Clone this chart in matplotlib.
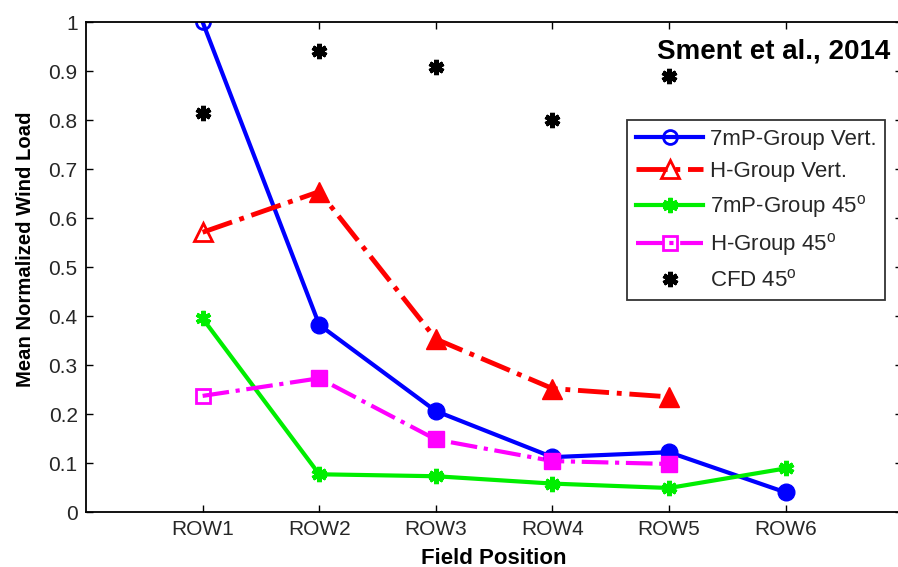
import matplotlib
matplotlib.use("Agg")
import matplotlib.pyplot as plt
import numpy as np

plt.rcParams["font.family"] = ["Liberation Sans", "DejaVu Sans"]
plt.rcParams["mathtext.fontset"] = "custom"
plt.rcParams["mathtext.rm"] = "Liberation Sans"

rows = ["ROW1", "ROW2", "ROW3", "ROW4", "ROW5", "ROW6"]
mp_vert = [1.0, 0.382, 0.206, 0.112, 0.122, 0.040]
h_vert = [0.571, 0.654, 0.353, 0.252, 0.235]
mp_45 = [0.395, 0.077, 0.073, 0.058, 0.049, 0.089]
h_45 = [0.237, 0.273, 0.148, 0.104, 0.098]
cfd_45 = [0.815, 0.941, 0.909, 0.800, 0.890]

x6 = np.arange(1, 7)
x5 = np.arange(1, 6)

fig = plt.figure(figsize=(8.98, 5.67), dpi=100)
# right spine falls just past the image edge, as in the original
ax = fig.add_axes([0.0958, 0.097, 0.909, 0.864])

asterisk = (6, 2, 0)

# lines with open first marker (as in legend)
ax.plot(x6, mp_vert, "-", color="#0000ff", lw=3, marker="o", ms=10,
        mfc="none", mew=2, markevery=[0], label="7mP-Group Vert.")
ax.plot(x5, h_vert, "-.", color="#ff0000", lw=3.5, marker="^", ms=13,
        mfc="none", mew=2, markevery=[0], label="H-Group Vert.")
ax.plot(x6, mp_45, "-", color="#00ee00", lw=3, marker=asterisk, ms=11,
        mew=3, markevery=[0], label="7mP-Group 45$^\\mathrm{o}$")
ax.plot(x5, h_45, "-.", color="#ff00ff", lw=3, marker="s", ms=10,
        mfc="none", mew=2, markevery=[0], label="H-Group 45$^\\mathrm{o}$")
ax.plot(x5, cfd_45, ls="none", color="black", marker=asterisk, ms=11,
        mew=3.5, label="CFD 45$^\\mathrm{o}$")

# filled markers for the remaining points
ax.plot(x6[1:], mp_vert[1:], ls="none", marker="o", ms=12, color="#0000ff")
ax.plot(x5[1:], h_vert[1:], ls="none", marker="^", ms=15, color="#ff0000")
ax.plot(x6[1:], mp_45[1:], ls="none", marker=asterisk, ms=11, mew=3.5,
        color="#00ee00")
ax.plot(x5[1:], h_45[1:], ls="none", marker="s", ms=11, color="#ff00ff")

ax.set_xlim(0, 7)
ax.set_ylim(0, 1)
ax.set_xticks(x6)
ax.set_xticklabels(rows)
ax.set_yticks(np.arange(0, 1.01, 0.1))
ax.set_yticklabels(["0"] + [f"{v:.1f}" for v in np.arange(0.1, 0.95, 0.1)] + ["1"])
ax.tick_params(direction="in", top=True, right=True, length=5, width=1,
               labelsize=15, labelcolor="#262626", pad=6)
for s in ax.spines.values():
    s.set_linewidth(1.3)

ax.set_xlabel("Field Position", fontsize=16, fontweight="bold", labelpad=6)
ax.set_ylabel("Mean Normalized Wind Load", fontsize=14.6, fontweight="bold")
ax.yaxis.set_label_coords(-0.062, 0.537)

ax.text(0.985, 0.94, "Sment et al., 2014", transform=ax.transAxes,
        ha="right", va="center", fontsize=20, fontweight="bold")

leg = ax.legend(loc="upper right", bbox_to_anchor=(0.979, 0.80),
                borderaxespad=0, fontsize=16, frameon=True, fancybox=False,
                edgecolor="black", handlelength=3.0, handletextpad=0.3,
                labelspacing=0.5, borderpad=0.4)
leg.get_frame().set_linewidth(1.3)
for t in leg.get_texts():
    t.set_color("#262626")

fig.savefig("out.png", dpi=100)
